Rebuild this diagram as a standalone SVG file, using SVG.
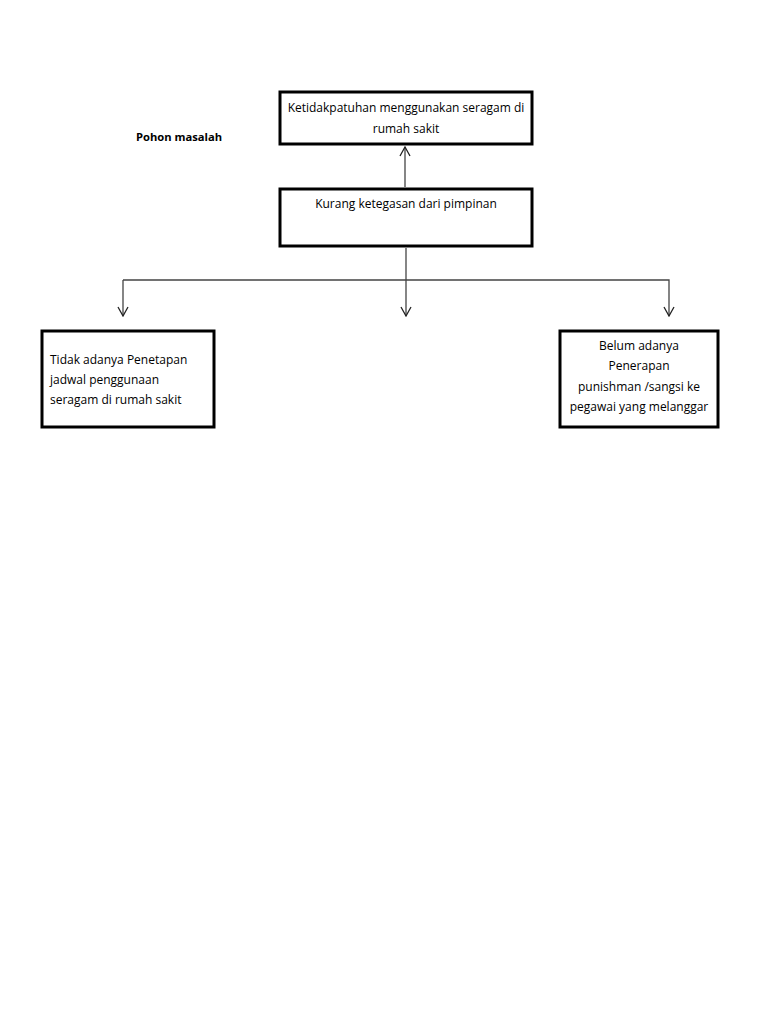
<svg xmlns="http://www.w3.org/2000/svg" width="768" height="1024" viewBox="0 0 768 1024">
<style>
.box{fill:#fff;stroke:#000;stroke-width:3}
.t{font-family:"Open Sans","Noto Sans",sans-serif;font-size:12px;fill:#000}
.c{text-anchor:middle}
.con{fill:none;stroke:#444;stroke-width:1.3}
</style>
<defs>
<marker id="ah" viewBox="0 0 12 12" refX="11" refY="6" markerWidth="12" markerHeight="12" markerUnits="userSpaceOnUse" orient="auto">
<polyline points="2,1 11,6 2,11" fill="none" stroke="#222" stroke-width="1.3"/>
</marker>
</defs>
<rect width="768" height="1024" fill="#fff"/>
<text class="t" x="136" y="141" font-weight="bold" font-size="11.2px" style="font-size:11.2px">Pohon masalah</text>
<g id="connectors">
<line class="con" x1="405" y1="187" x2="405" y2="147" marker-end="url(#ah)"/>
<line class="con" x1="406" y1="248" x2="406" y2="316" marker-end="url(#ah)"/>
<polyline class="con" points="123,280 669,280 669,316" marker-end="url(#ah)"/>
<line class="con" x1="123" y1="280" x2="123" y2="316" marker-end="url(#ah)"/>
</g>
<g id="n1">
<rect class="box" x="280" y="92" width="252" height="52"/>
<text class="t c" x="406" y="112">Ketidakpatuhan menggunakan seragam di</text>
<text class="t c" x="406" y="133">rumah sakit</text>
</g>
<g id="n2">
<rect class="box" x="280" y="189" width="252" height="57"/>
<text class="t c" x="406" y="208">Kurang ketegasan dari pimpinan</text>
</g>
<g id="n3">
<rect class="box" x="42" y="331" width="172" height="96"/>
<text class="t" x="50" y="364">Tidak adanya Penetapan</text>
<text class="t" x="50" y="384">jadwal penggunaan</text>
<text class="t" x="50" y="404">seragam di rumah sakit</text>
</g>
<g id="n4">
<rect class="box" x="560" y="331" width="158" height="96"/>
<text class="t c" x="639" y="350">Belum adanya</text>
<text class="t c" x="639" y="370">Penerapan</text>
<text class="t c" x="639" y="391">punishman /sangsi ke</text>
<text class="t c" x="639" y="411">pegawai yang melanggar</text>
</g>
</svg>
